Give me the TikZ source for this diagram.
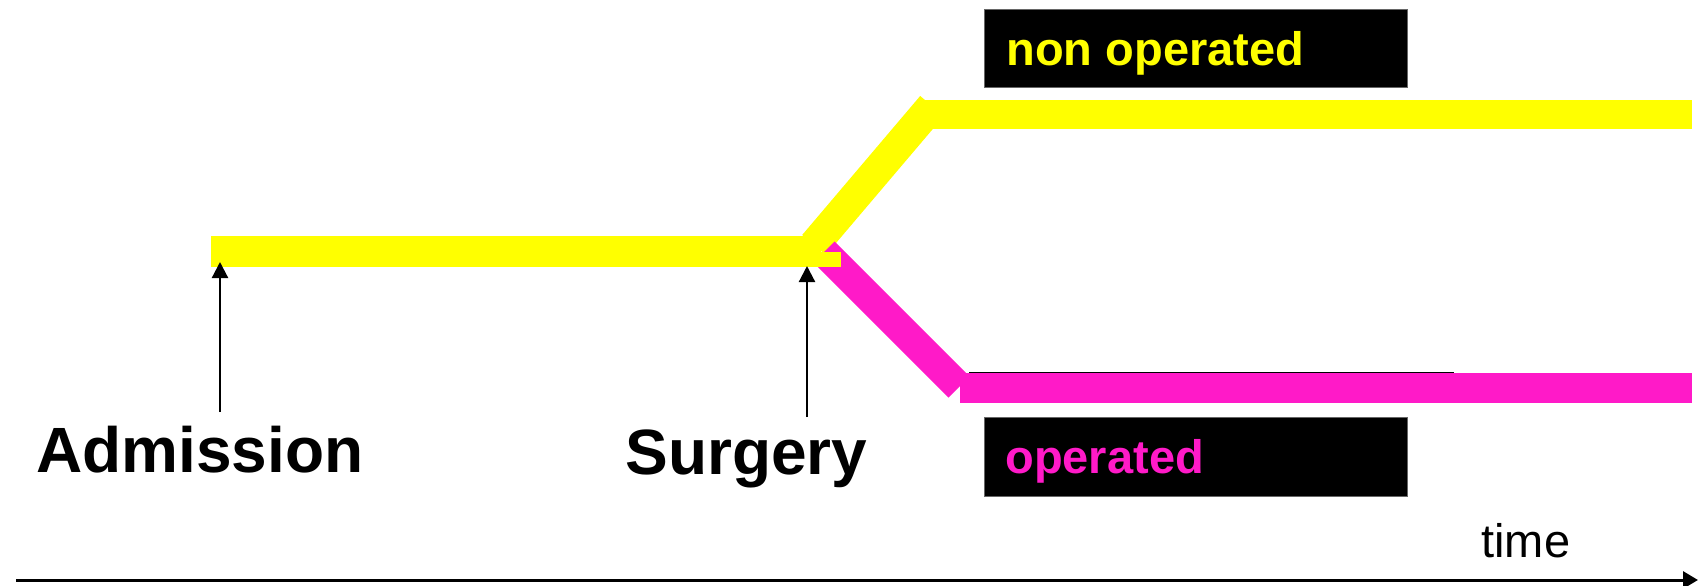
\documentclass[tikz,border=0pt]{standalone}
\usepackage{fontspec}
\setmainfont{Liberation Sans}
\usetikzlibrary{arrows.meta}
\definecolor{ylw}{RGB}{255,255,0}
\definecolor{mag}{RGB}{255,26,200}
\tikzset{
  bigtxt/.style={inner sep=0pt, anchor=base west, font=\fontsize{32pt}{36pt}\selectfont\bfseries},
  lbltxt/.style={inner sep=0pt, anchor=base west, font=\fontsize{23.5pt}{28pt}\selectfont\bfseries},
  blackbox/.style={fill=black, draw=black!60, line width=0.4pt},
  pointer/.style={line width=1.1pt, -{Triangle[length=8pt,width=8pt]}},
  axis/.style={line width=1.5pt, -{Triangle[length=7.5pt,width=8.5pt]}},
}
\begin{document}
\begin{tikzpicture}[x=0.5pt,y=-0.5pt]
\useasboundingbox (0,0) rectangle (1698,585);
% branches
\draw[ylw, line width=15.5pt] (814,245) -- (932,106);
\fill[ylw] (921,100) rectangle (1692,129);
\draw[mag, line width=15pt] (824,252) -- (959,387);
\fill[mag] (960,372.7) rectangle (1692,402.7);
\draw[black, line width=0.6pt] (969,372.5) -- (1454,372.5);
\fill[ylw] (211,236) rectangle (821,266.5);
\fill[ylw] (821,252) rectangle (841,266.5);
% label boxes
\fill[blackbox] (984,9) rectangle (1407,87);
\node[lbltxt, text=ylw] (nonop) at (1006,65) {non operated};
\fill[blackbox] (984,417) rectangle (1407,496);
\node[lbltxt, text=mag] (op) at (1005,473) {operated};
% event labels and pointers
\node[bigtxt] (adm) at (36,472) {Admission};
\node[bigtxt] (surg) at (625,474) {Surgery};
\coordinate (admfoot) at (220,412);
\coordinate (admtip) at (220,262);
\coordinate (surgfoot) at (807,417);
\coordinate (surgtip) at (807,266);
\draw[pointer] (admfoot) -- (admtip);
\draw[pointer] (surgfoot) -- (surgtip);
% time axis
\coordinate (tstart) at (16,580);
\coordinate (tend) at (1698,580);
\draw[axis] (tstart) -- (tend);
\node[inner sep=0pt, anchor=base west, font=\fontsize{23.5pt}{28pt}\selectfont] (time) at (1481,557) {time};
\end{tikzpicture}
\end{document}
